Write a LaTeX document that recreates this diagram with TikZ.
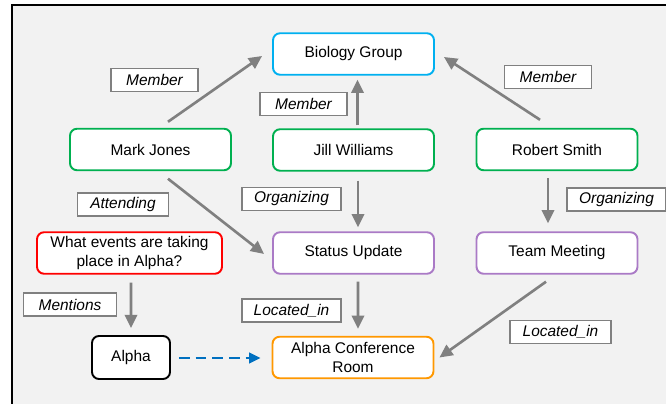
\documentclass[tikz,border=0pt]{standalone}
\usepackage{fontspec}
\setmainfont{Liberation Sans}
\usetikzlibrary{arrows.meta,calc}
\definecolor{panelgray}{RGB}{242,242,242}
\definecolor{groupblue}{RGB}{0,176,240}
\definecolor{persongreen}{RGB}{0,176,80}
\definecolor{eventpurple}{RGB}{170,122,198}
\definecolor{placeorange}{RGB}{255,152,0}
\definecolor{linkgray}{RGB}{128,128,128}
\definecolor{refblue}{RGB}{0,112,192}
\tikzset{
    entity/.style={draw, line width=1.1pt, rounded corners=0.14cm, fill=white,
        minimum width=3.22cm, minimum height=0.83cm, align=center,
        font=\fontsize{8.8}{10.6}\selectfont, inner sep=1pt},
    relbox/.style={draw=linkgray, line width=1pt, fill=white, minimum width=1.74cm,
        minimum height=0.46cm, inner sep=1pt, font=\fontsize{8.8}{10.6}\selectfont\itshape},
    rel/.style={linkgray, line width=1.5pt, -{Triangle[length=7.5pt,width=7pt]}},
}

\begin{document}
\begin{tikzpicture}[x=0.02cm, y=-0.02cm]
    \useasboundingbox (0,0) rectangle (666,404);

    % Panel and frame
    \fill[panelgray] (12,5) rectangle (666,404);
    \draw[line width=1.3pt] (12,404) -- (12,5) -- (666,5);

    % Entities
    \node[entity, draw=groupblue] (bg) at (353.5,54) {Biology Group};
    \node[entity, draw=persongreen] (mj) at (150.5,149.5) {Mark Jones};
    \node[entity, draw=persongreen] (jw) at (353.5,150) {Jill Williams};
    \node[entity, draw=persongreen] (rs) at (557,149.5) {Robert Smith};
    \node[entity, draw=red, minimum width=3.7cm] (q) at (129.5,253)
        {What events are taking\\place in Alpha?};
    \node[entity, draw=eventpurple] (su) at (353.5,253) {Status Update};
    \node[entity, draw=eventpurple] (tm) at (557,253) {Team Meeting};
    \node[entity, draw=black, minimum width=1.56cm, minimum height=0.86cm] (al) at (131,357.5) {Alpha};
    \node[entity, draw=placeorange] (acr) at (353,357.5) {Alpha Conference\\Room};

    % Relation labels
    \node[relbox] (r1) at (154.5,80) {Member};
    \node[relbox] (r2) at (303.5,104) {Member};
    \node[relbox] (r3) at (548,77) {Member};
    \node[relbox, minimum width=1.82cm] (r4) at (123,204.5) {Attending};
    \node[relbox, minimum width=1.98cm] (r5) at (291.5,199) {Organizing};
    \node[relbox, minimum width=1.98cm] (r6) at (616.5,199.5) {Organizing};
    \node[relbox, minimum width=1.86cm] (r7) at (70,304.5) {Mentions};
    \node[relbox, minimum width=1.98cm] (r8) at (291.5,310.5) {Located\_in};
    \node[relbox, minimum width=2.02cm] (r9) at (560.5,332) {Located\_in};

    % Connectors
    \draw[rel] ($(mj.north)+(17.5,-6)$) -- ($(bg.west)+(-10,2)$);
    \draw[rel] ($(jw.north)+(4,-3)$) -- ($(bg.south)+(4,4)$);
    \draw[rel] ($(rs.north)+(-17,-8)$) -- ($(bg.east)+(9,3)$);
    \draw[rel] ($(mj.south)+(17.5,7.5)$) -- ($(su.west)+(-8,1)$);
    \draw[rel] ($(jw.south)+(4.5,9)$) -- ($(su.north)+(4.5,-4)$);
    \draw[rel] ($(rs.south)+(-9,7)$) -- ($(tm.north)+(-9,-8)$);
    \draw[rel] ($(q.south)+(1.5,8)$) -- ($(al.north)+(0,-7)$);
    \draw[rel] ($(su.south)+(4.5,7)$) -- ($(acr.north)+(5,-7)$);
    \draw[rel] ($(tm.south)+(-11,7)$) -- ($(acr.east)+(5,0)$);
    \draw[refblue, line width=1.4pt, dash pattern=on 6pt off 3.5pt,
        -{Triangle[length=6.5pt,width=6pt]}] ($(al.east)+(8,0.5)$) -- ($(acr.west)+(-11,0.5)$);
\end{tikzpicture}
\end{document}
